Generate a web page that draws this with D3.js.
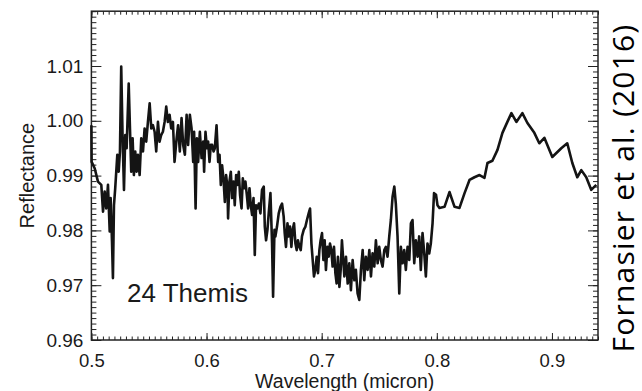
<!DOCTYPE html>
<html>
<head>
<meta charset="utf-8">
<script src="https://cdn.jsdelivr.net/npm/d3@7"></script>
<style>
body { margin: 0; background: #fff; }
svg { display: block; font-family: "Liberation Sans", Arial, Helvetica, sans-serif; }
</style>
</head>
<body>
<svg id="drawing_region"></svg>
<script>
// 24 Themis spectrum
const wavelength = [
    0.5000,0.5002,0.5029,0.5057,0.5086,0.5101,0.5115,0.5129,0.5144,0.5159,
    0.5167,0.5179,0.5187,0.5196,0.5207,0.5225,0.5237,0.5248,0.5259,0.5271,
    0.5283,0.5294,0.5306,0.5324,0.5335,0.5346,0.5358,0.5369,0.5381,0.5393,
    0.5404,0.5419,0.5433,0.5448,0.5462,0.5476,0.5491,0.5506,0.5520,0.5534,
    0.5549,0.5563,0.5578,0.5592,0.5606,0.5621,0.5636,0.5650,0.5664,0.5679,
    0.5693,0.5708,0.5722,
    0.5740,0.5753,0.5768,0.5783,0.5797,0.5812,0.5827,0.5840,0.5855,0.5870,
    0.5884,0.5892,0.5905,0.5916,0.5927,0.5942,0.5957,0.5971,0.5979,0.5991,
    0.6003,0.6014,0.6026,0.6037,0.6049,0.6061,0.6072,0.6087,0.6101,0.6113,
    0.6124,0.6135,0.6147,0.6159,0.6170,0.6182,0.6187,0.6199,0.6211,0.6222,
    0.6234,0.6245,0.6257,0.6269,0.6280,0.6291,0.6304,0.6315,0.6326,0.6338,
    0.6350,0.6361,0.6373,0.6384,0.6396,0.6408,0.6419,0.6430,0.6442,0.6454,
    0.6468,0.6482,0.6497,0.6506,0.6517,0.6529,0.6540,0.6555,0.6569,0.6578,
    0.6590,0.6598,0.6612,0.6627,0.6642,0.6656,0.6670,0.6679,0.6690,0.6703,
    0.6714,0.6725,0.6737,0.6748,0.6760,0.6772,0.6783,0.6794,0.6807,0.6818,
    0.6829,0.6844,0.6859,0.6872,0.6887,0.6899,0.6911,0.6922,0.6933,0.6945,
    0.6957,0.6968,0.6980,0.6991,0.7003,0.7015,0.7026,0.7037,0.7050,0.7061,
    0.7072,0.7084,0.7095,0.7107,0.7119,0.7130,0.7141,0.7154,0.7165,0.7176,
    0.7197,0.7211,0.7226,0.7240,0.7254,0.7269,0.7284,0.7297,0.7312,0.7327,
    0.7341,0.7356,0.7370,0.7384,0.7399,0.7414,0.7428,0.7442,0.7457,0.7471,
    0.7486,0.7500,0.7514,0.7529,0.7544,0.7558,0.7572,0.7587,0.7601,0.7616,
    0.7631,0.7644,0.7659,0.7674,0.7688,0.7703,0.7717,0.7731,0.7746,0.7761,
    0.7775,0.7789,0.7804,0.7818,0.7833,0.7847,0.7861,0.7876,0.7891,0.7905,
    0.7919,0.7934,0.7948,0.7963,0.7976,
    0.7993,0.8006,0.8023,0.8067,0.8110,0.8154,0.8197,0.8241,0.8284,0.8327,
    0.8371,0.8414,0.8440,0.8483,0.8527,0.8570,0.8613,0.8648,0.8691,0.8743,
    0.8787,0.8847,0.8890,0.8934,0.9003,0.9081,0.9133,0.9177,0.9220,0.9255,
    0.9298,0.9341,0.9385
];
const reflectance = [
    0.9992,0.9925,0.9913,0.9889,0.9883,0.9834,0.9871,0.9840,0.9883,0.9798,
    0.9859,0.9779,0.9713,0.9846,0.9877,0.9938,0.9907,0.9944,1.0099,0.9968,
    0.9874,0.9974,0.9950,1.0068,0.9986,0.9907,0.9968,0.9901,0.9944,0.9907,
    0.9938,0.9901,0.9968,0.9944,0.9986,0.9962,0.9998,1.0032,0.9986,0.9992,
    0.9980,0.9944,0.9998,0.9962,0.9974,0.9980,0.9998,1.0026,0.9998,1.0011,
    0.9986,0.9998,0.9925,
    0.9968,0.9992,0.9944,1.0005,0.9956,0.9938,1.0011,0.9956,1.0011,0.9986,
    0.9925,0.9980,0.9840,0.9968,0.9925,0.9980,0.9932,0.9962,0.9907,0.9980,
    0.9950,0.9962,0.9925,0.9956,0.9956,0.9944,0.9950,0.9992,0.9925,0.9938,
    0.9883,0.9919,0.9895,0.9852,0.9901,0.9877,0.9822,0.9889,0.9907,0.9859,
    0.9889,0.9846,0.9901,0.9883,0.9907,0.9865,0.9840,0.9895,0.9877,0.9889,
    0.9865,0.9840,0.9877,0.9846,0.9828,0.9859,0.9755,0.9846,0.9840,0.9849,
    0.9831,0.9874,0.9880,0.9807,0.9782,0.9801,0.9831,0.9868,0.9776,0.9679,
    0.9801,0.9789,0.9807,0.9831,0.9843,0.9849,0.9825,0.9795,0.9770,0.9813,
    0.9789,0.9807,0.9770,0.9801,0.9813,0.9776,0.9764,0.9782,0.9770,0.9764,
    0.9789,0.9801,0.9807,0.9819,0.9831,0.9840,0.9776,0.9746,0.9716,0.9728,
    0.9752,0.9722,0.9764,0.9782,0.9795,0.9746,0.9782,0.9728,0.9770,0.9752,
    0.9776,0.9764,0.9734,0.9770,0.9722,0.9703,0.9752,0.9697,0.9728,0.9782,
    0.9716,0.9752,0.9703,0.9740,0.9691,0.9746,0.9709,0.9728,0.9685,0.9673,
    0.9728,0.9764,0.9709,0.9752,0.9728,0.9764,0.9716,0.9758,0.9734,0.9782,
    0.9740,0.9770,0.9746,0.9734,0.9764,0.9770,0.9752,0.9789,0.9819,0.9862,
    0.9880,0.9849,0.9789,0.9685,0.9770,0.9740,0.9764,0.9728,0.9770,0.9746,
    0.9813,0.9819,0.9740,0.9782,0.9752,0.9789,0.9728,0.9795,0.9758,0.9716,
    0.9776,0.9758,0.9776,0.9813,0.9868,
    0.9865,0.9846,0.9841,0.9843,0.9870,0.9843,0.9841,0.9868,0.9892,0.9897,
    0.9901,0.9896,0.9923,0.9927,0.9947,0.9978,0.9998,1.0014,0.9998,1.0014,
    0.9996,0.9978,0.9959,0.9969,0.9934,0.9950,0.9959,0.9923,0.9897,0.9910,
    0.9897,0.9874,0.9883
];

const xTicks = [0.5, 0.6, 0.7, 0.8, 0.9];
const yTicks = [0.96, 0.97, 0.98, 0.99, 1.00, 1.01];
const xDomain = [0.5, 0.94];
const yDomain = [0.96, 1.02];
const xTitle = "Wavelength (micron)";
const yTitle = "Reflectance";
const objectName = "24 Themis";
const sourceNote = "Fornasier et al. (2016)";

class SpectrumPlot {

    constructor( config, data ) {
        this.config = config;
        this.data = data;
        this.init();
    }

    init() {
        let self = this;
        self.svg = d3.select( self.config.parent )
            .attr('width', self.config.width)
            .attr('height', self.config.height);

        self.inner_width = self.config.width - self.config.margin.left - self.config.margin.right;
        self.inner_height = self.config.height - self.config.margin.top - self.config.margin.bottom;

        self.chart = self.svg.append('g')
            .attr('transform', `translate(${self.config.margin.left}, ${self.config.margin.top})`);

        self.xscale = d3.scaleLinear().domain( xDomain ).range( [0, self.inner_width] );
        self.yscale = d3.scaleLinear().domain( yDomain ).range( [self.inner_height, 0] );
    }

    render() {
        let self = this;
        const W = self.inner_width, H = self.inner_height;
        const xminor = d3.range(0.5, 0.9401, 0.005);
        const yminor = d3.range(0.96, 1.0201, 0.001);

        // minor ticks on all four sides (pointing inwards)
        const axes = [
            [d3.axisBottom(self.xscale).tickValues(xminor).tickSize(-3.5), `translate(0,${H})`],
            [d3.axisTop(self.xscale).tickValues(xminor).tickSize(-3.5), 'translate(0,0)'],
            [d3.axisLeft(self.yscale).tickValues(yminor).tickSize(-5), 'translate(0,0)'],
            [d3.axisRight(self.yscale).tickValues(yminor).tickSize(-5), `translate(${W},0)`],
            [d3.axisTop(self.xscale).tickValues(xTicks).tickSize(-7), 'translate(0,0)'],
            [d3.axisRight(self.yscale).tickValues(yTicks).tickSize(-10), `translate(${W},0)`]
        ];
        axes.forEach( a => {
            const g = self.chart.append('g').attr('transform', a[1])
                .call( a[0].tickFormat('') );
            g.select('.domain').remove();
            g.selectAll('line').attr('stroke', '#222').attr('stroke-width', 1);
        });

        // labelled major ticks
        const xg = self.chart.append('g')
            .attr('transform', `translate(0,${H})`)
            .call( d3.axisBottom(self.xscale).tickValues(xTicks).tickSize(-7).tickPadding(14).tickFormat(d3.format('.1f')) );
        const yg = self.chart.append('g')
            .call( d3.axisLeft(self.yscale).tickValues(yTicks).tickSize(-10).tickPadding(8).tickFormat(d3.format('.2f')) );
        xg.selectAll('text').style('font-size', '18.5px');
        yg.selectAll('text').style('font-size', '19px');
        [xg, yg].forEach( g => {
            g.select('.domain').remove();
            g.selectAll('line').attr('stroke', '#222').attr('stroke-width', 1);
            g.selectAll('text').attr('fill', '#1a1a1a')
                .style('font-family', '"Liberation Sans", Arial, sans-serif');
        });

        // frame
        self.chart.append('rect')
            .attr('width', W).attr('height', H)
            .attr('fill', 'none')
            .attr('stroke', '#222')
            .attr('stroke-width', 1.5);

        // spectrum
        const line = d3.line()
            .x( d => self.xscale( d.x ) )
            .y( d => self.yscale( d.y ) );
        self.chart.append('path')
            .datum( self.data )
            .attr('d', line)
            .attr('fill', 'none')
            .attr('stroke', '#141414')
            .attr('stroke-width', 2.6)
            .attr('stroke-linejoin', 'round');

        // titles
        self.chart.append('text')
            .attr('x', W / 2).attr('y', H + 48.5)
            .attr('text-anchor', 'middle')
            .attr('fill', '#1a1a1a')
            .style('font-size', '19.5px')
            .text( xTitle );
        self.chart.append('text')
            .attr('transform', `translate(${34 - self.config.margin.left},${H / 2}) rotate(-90)`)
            .attr('text-anchor', 'middle')
            .attr('fill', '#1a1a1a')
            .style('font-size', '20px')
            .text( yTitle );
        self.chart.append('text')
            .attr('x', 127 - self.config.margin.left).attr('y', 302 - self.config.margin.top)
            .attr('fill', '#1a1a1a')
            .style('font-size', '26px')
            .text( objectName );

        self.svg.append('text')
            .attr('transform', `translate(634,188) rotate(-90)`)
            .attr('text-anchor', 'middle')
            .attr('fill', '#000')
            .style('font-family', '"Open Sans", sans-serif')
            .style('font-size', '30px')
            .style('letter-spacing', '1.2px')
            .text( sourceNote );
    }
}

const spectrum = wavelength.map( (w, i) => ({ x: w, y: reflectance[i] }) );

const config = {
    parent: '#drawing_region',
    width: 642,
    height: 391,
    margin: {top: 11.2, right: 44, bottom: 51, left: 91.4}
};

const plot = new SpectrumPlot( config, spectrum );
plot.render();
</script>
</body>
</html>
